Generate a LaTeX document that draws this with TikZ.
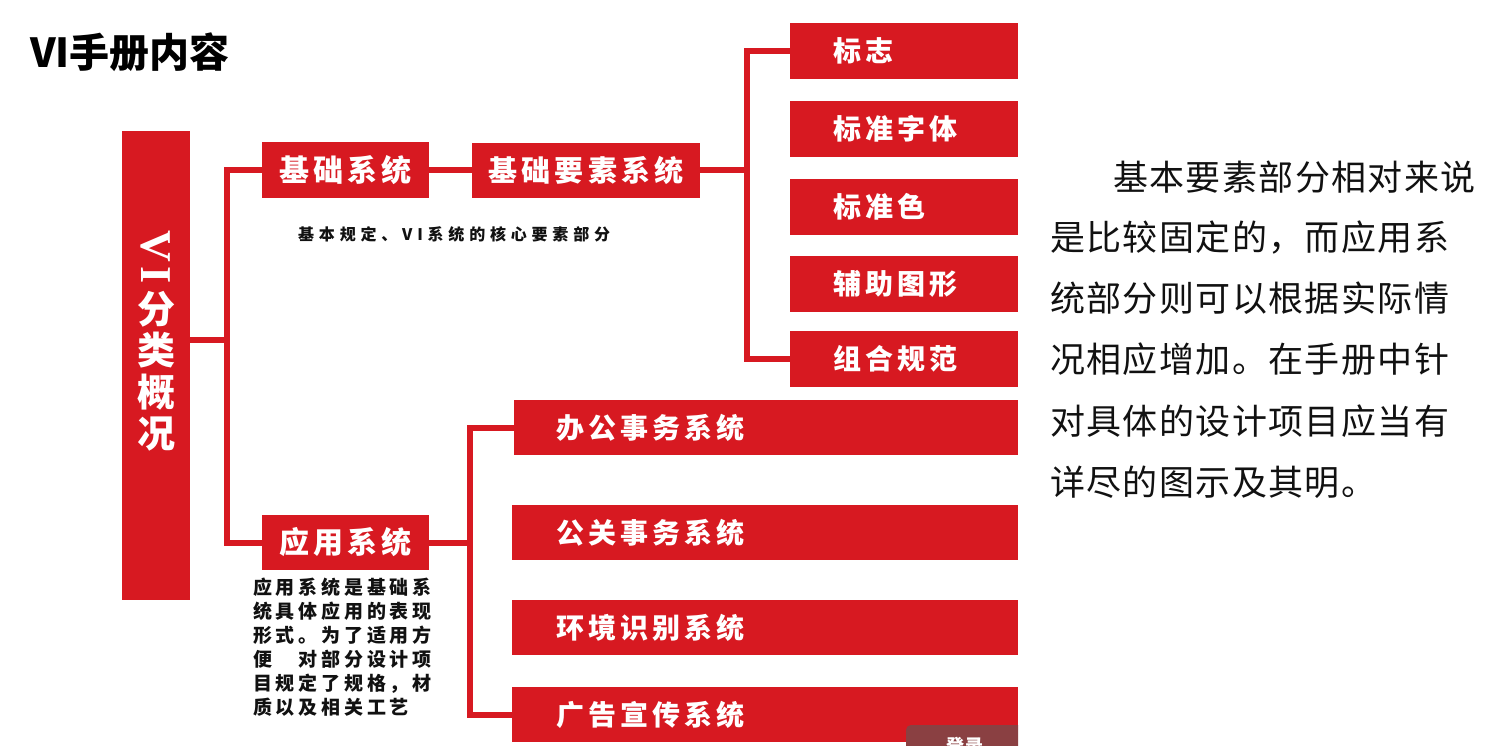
\documentclass[tikz,border=0pt]{standalone}
\usepackage{fontspec}
\usepackage{graphicx}
\newfontfamily\cjk{Noto Sans CJK SC}
\newfontfamily\latserif{Liberation Serif}
\definecolor{vired}{RGB}{215,25,33}
\definecolor{vigray}{RGB}{138,64,66}
\definecolor{vitext}{RGB}{17,17,17}
\tikzset{
  redbox/.style={fill=vired, draw=none, text=white, inner sep=0pt},
  boxtxt/.style={font=\cjk\bfseries\fontsize{30}{32}\selectfont\addfontfeature{LetterSpace=13}},
  leaftxt/.style={font=\cjk\bfseries\fontsize{28}{30}\selectfont\addfontfeature{LetterSpace=15}},
  vchar/.style={inner sep=0pt, text=white, font=\cjk\bfseries\fontsize{38}{40}\selectfont},
  paraline/.style={anchor=west, inner sep=0pt, text=vitext, font=\cjk\fontsize{35}{40}\selectfont\addfontfeature{LetterSpace=4}},
  conn/.style={draw=vired, line width=6pt, line join=miter},
}
\begin{document}
\begin{tikzpicture}[x=1pt,y=-1pt]
\useasboundingbox (0,0) rectangle (1499,745);
\fill[white] (0,0) rectangle (1499,745);

% title
\node[anchor=west, inner sep=0pt, font=\cjk\bfseries\fontsize{40}{44}\selectfont] (title) at (30,52) {VI手册内容};

% left vertical box
\node[redbox, minimum width=68, minimum height=469] (vi) at (156,365.5) {};
\node[vchar] (v1) at (156,257) {\rotatebox{-90}{\latserif\bfseries\fontsize{44}{44}\selectfont\addfontfeature{LetterSpace=8}VI}};
\node[vchar] (v2) at (156,309) {分};
\node[vchar] (v3) at (156,350) {类};
\node[vchar] (v4) at (156,392) {概};
\node[vchar] (v5) at (156,434) {况};

% second level
\node[redbox, boxtxt, minimum width=167, minimum height=56] (jc) at (345.5,170) {基础系统};
\node[redbox, boxtxt, minimum width=167, minimum height=55] (yy) at (345.5,542.5) {应用系统};
\node[redbox, boxtxt, minimum width=228, minimum height=55, font=\cjk\bfseries\fontsize{29}{32}\selectfont\addfontfeature{LetterSpace=14}] (jcys) at (586,170) {基础要素系统};

% leaves of basic system
\node[redbox, leaftxt, minimum height=56, inner xsep=43pt, text width=142pt, align=left] (bz) at (904,50.5) {标志};
\node[redbox, leaftxt, minimum height=56, inner xsep=43pt, text width=142pt, align=left] (bzzt) at (904,128.5) {标准字体};
\node[redbox, leaftxt, minimum height=56, inner xsep=43pt, text width=142pt, align=left] (bzs) at (904,207) {标准色};
\node[redbox, leaftxt, minimum height=56, inner xsep=43pt, text width=142pt, align=left] (fz) at (904,284) {辅助图形};
\node[redbox, leaftxt, minimum height=56, inner xsep=43pt, text width=142pt, align=left] (zh) at (904,358.5) {组合规范};

% leaves of application system
\node[redbox, leaftxt, minimum height=55, inner xsep=42pt, text width=420pt, align=left] (bg) at (766,427.5) {办公事务系统};
\node[redbox, leaftxt, minimum height=55, inner xsep=44pt, text width=418pt, align=left] (gg) at (765,532.5) {公关事务系统};
\node[redbox, leaftxt, minimum height=55, inner xsep=44pt, text width=418pt, align=left] (hj) at (765,627.5) {环境识别系统};
\node[redbox, leaftxt, minimum height=55, inner xsep=44pt, text width=418pt, align=left] (gz) at (765,714.5) {广告宣传系统};

% connectors
\coordinate (lx) at (227,340);
\draw[conn] (vi.east |- lx) -- (lx);
\draw[conn] (jc.west) -| (lx) |- (yy.west);
\draw[conn] (jc.east) -- (jc.east -| jcys.west);
\coordinate (rx) at (747,170);
\draw[conn] (jcys.east |- rx) -- (rx);
\draw[conn] (bz.west) -| (rx) |- (zh.west);
\coordinate (ax) at (470,542.5);
\draw[conn] (yy.east) -- (ax);
\draw[conn] (bg.west) -| (ax) |- (gz.west);

% notes
\node[anchor=west, inner sep=0pt, text=vitext, font=\cjk\bfseries\fontsize{16}{18}\selectfont\addfontfeature{LetterSpace=30}] (jcnote) at (298,234) {基本规定、VI系统的核心要素部分};
\node[anchor=north west, inner sep=0pt, align=left, text=vitext, font=\cjk\bfseries\fontsize{19}{24}\selectfont\addfontfeature{LetterSpace=20}] (yynote) at (253,578) {应用系统是基础系\\统具体应用的表现\\形式。为了适用方\\便　对部分设计项\\目规定了规格，材\\质以及相关工艺};

% right paragraph
\node[paraline] (p1) at (1113,177) {基本要素部分相对来说};
\node[paraline] (p2) at (1050,238) {是比较固定的，而应用系};
\node[paraline] (p3) at (1050,298) {统部分则可以根据实际情};
\node[paraline] (p4) at (1050,359) {况相应增加。在手册中针};
\node[paraline] (p5) at (1050,421) {对具体的设计项目应当有};
\node[paraline] (p6) at (1050,482) {详尽的图示及其明。};

% partially visible button
\fill[vigray] (906,752) [rounded corners=5pt] -- (906,725) [sharp corners] -- (1018,725) -- (1018,752) -- cycle;
\node[inner sep=0pt, text=white, font=\cjk\bfseries\fontsize{18}{20}\selectfont\addfontfeature{LetterSpace=10}] (login) at (965,746) {登录};
\end{tikzpicture}
\end{document}
